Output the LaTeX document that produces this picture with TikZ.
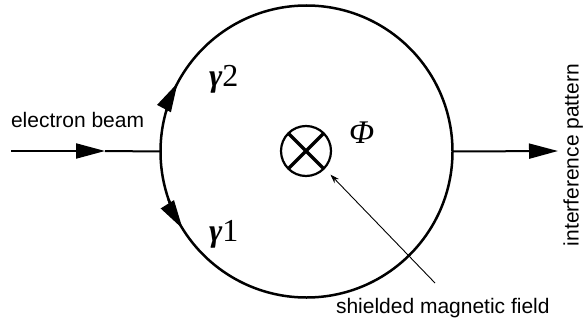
\documentclass[tikz,border=0pt]{standalone}
\usepackage{fontspec}
\setmainfont{Liberation Sans}
\newfontfamily\timesf{Liberation Serif}
\usetikzlibrary{arrows.meta,calc}
\begin{document}
\begin{tikzpicture}[x=1pt,y=-1pt,
  lbl/.style={font=\fontsize{21}{21}\selectfont, inner sep=0pt, outer sep=0pt},
  gam/.style={font=\timesf\fontsize{32}{32}\selectfont, inner sep=0pt, outer sep=0pt},
  bigtip/.style={-{Triangle[length=29pt,width=15pt]}},
  beam/.style={line width=2pt},
  loop/.style={line width=2.5pt}]
\useasboundingbox (0,0) rectangle (583,321);
% main loop
\node[circle, draw, loop, minimum size=292pt, inner sep=0pt, outer sep=0pt] (ring) at (306.5,151.5) {};
% flux symbol
\node[circle, draw, line width=2.2pt, minimum size=50pt, inner sep=0pt, outer sep=0pt] (flux) at (306,151) {};
\draw[line width=3.5pt] (flux.45) -- (flux.225);
\draw[line width=3.5pt] (flux.135) -- (flux.-45);
\node[gam, anchor=base west] (phi) at (349,143) {\itshape\fontsize{33}{33}\selectfont Φ};
% incoming beam
\coordinate (bstart) at (11,151);
\coordinate (bmid) at (105,151);
\draw[beam, bigtip] (bstart) -- (bmid);
\draw[beam] (bmid) -- (ring.west);
\node[lbl, anchor=base west] (elab) at (11,127.5) {electron beam};
% outgoing beam
\coordinate (bend) at (558,151);
\draw[beam, bigtip] (ring.east) -- (bend);
\node[lbl, anchor=base, rotate=90] (ilab) at (578.5,155) {interference pattern};
% path arrows on the loop
\draw[loop, bigtip] (ring.164) arc[start angle=164, end angle=152, radius=146pt];
\draw[loop, bigtip] (ring.199) arc[start angle=199, end angle=212, radius=146pt];
\node[gam, anchor=base west] (g2) at (209,86) {\textbf{\textit{γ}}2};
\node[gam, anchor=base west] (g1) at (209,241) {\textbf{\textit{γ}}1};
% shielded field pointer
\node[lbl, anchor=base west] (flab) at (336,313) {shielded magnetic field};
\coordinate (pstart) at (435,283);
\draw[line width=0.9pt, -{Stealth[length=9pt,width=6pt]}] (pstart) -- ([shift={(-44:9pt)}]flux.-44);
\end{tikzpicture}
\end{document}
